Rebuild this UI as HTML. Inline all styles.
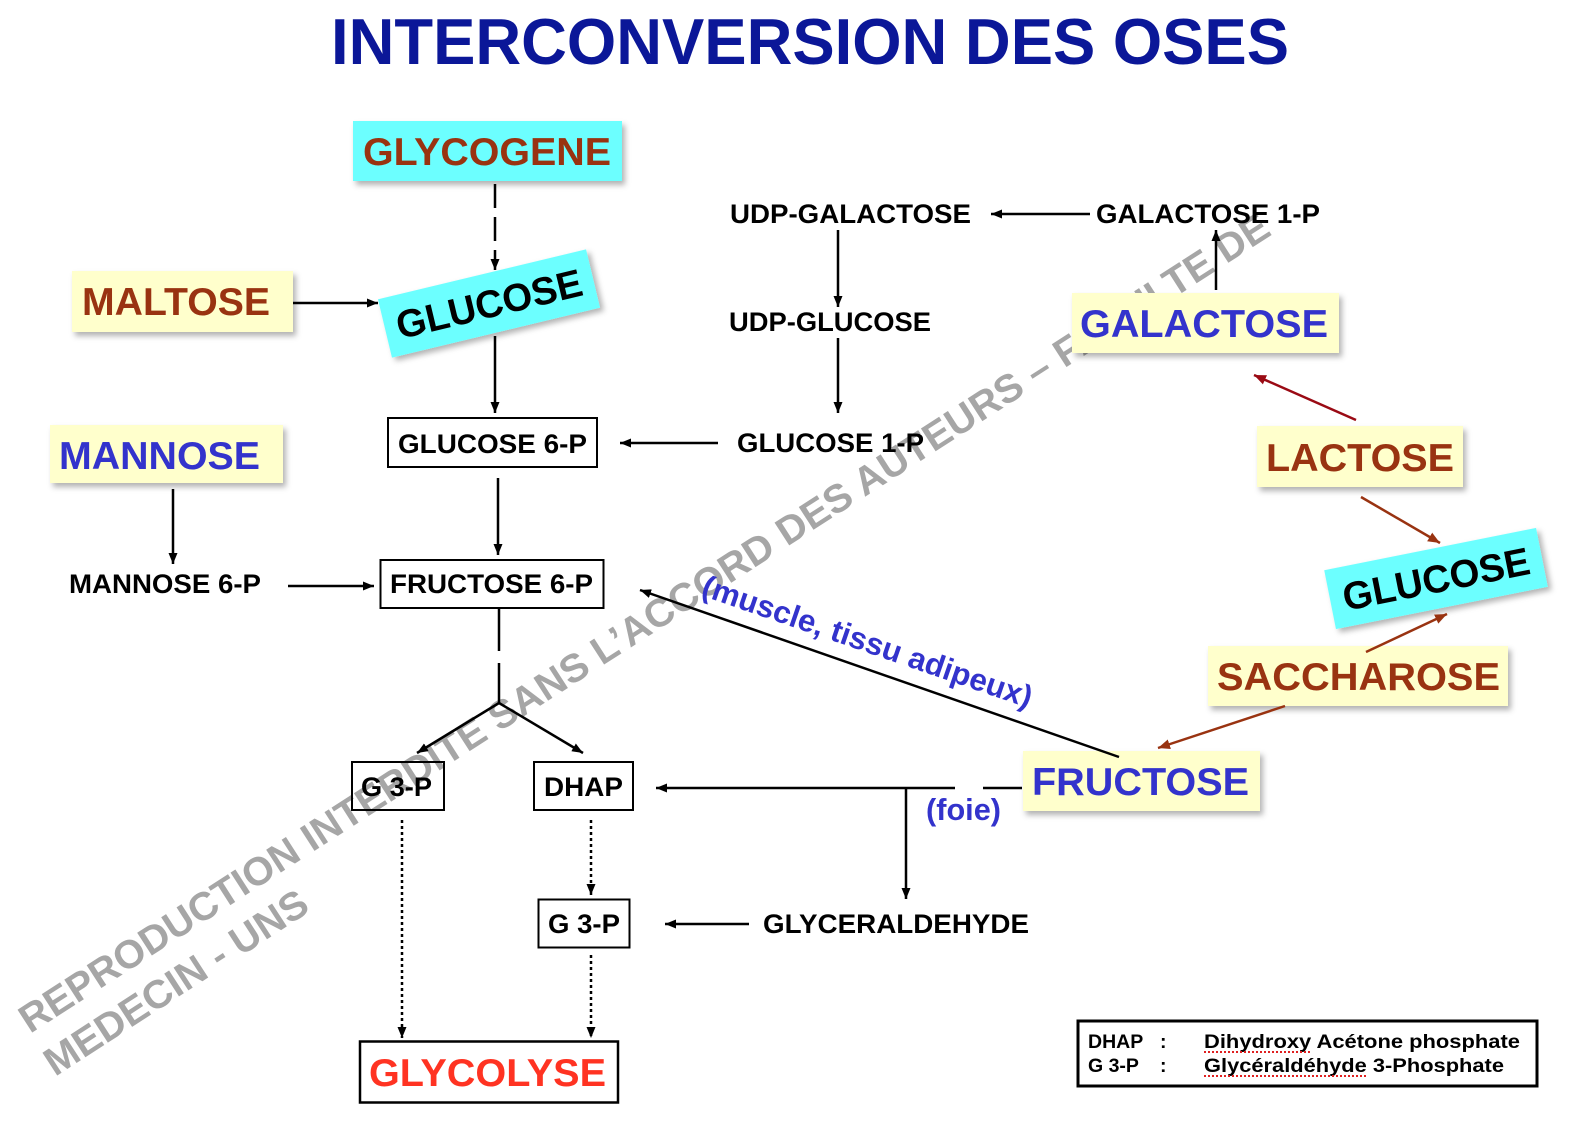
<!DOCTYPE html>
<html><head><meta charset="utf-8"><style>
html,body{margin:0;padding:0;background:#fff;}
svg{display:block;}
text{font-family:"Liberation Sans",Arial,sans-serif;font-weight:bold;}
</style></head><body>
<svg width="1574" height="1122" viewBox="0 0 1574 1122" xmlns="http://www.w3.org/2000/svg">
<defs>
<filter id="sh" x="-15%" y="-30%" width="140%" height="170%">
<feDropShadow dx="3" dy="4" stdDeviation="3" flood-color="#000" flood-opacity="0.3"/>
</filter>
<marker id="a" viewBox="0 0 10 10" refX="10" refY="5" markerWidth="11" markerHeight="9" orient="auto" markerUnits="userSpaceOnUse" preserveAspectRatio="none"><path d="M0,0L10,5L0,10z" fill="#000"/></marker>
<marker id="b" viewBox="0 0 10 10" refX="10" refY="5" markerWidth="12" markerHeight="10" orient="auto" markerUnits="userSpaceOnUse" preserveAspectRatio="none"><path d="M0,0L10,5L0,10z" fill="#993311"/></marker>
<marker id="r" viewBox="0 0 10 10" refX="10" refY="5" markerWidth="12" markerHeight="10" orient="auto" markerUnits="userSpaceOnUse" preserveAspectRatio="none"><path d="M0,0L10,5L0,10z" fill="#9a0a14"/></marker>
</defs>

<!-- watermark -->
<g fill="#a6a6a6" font-size="39.5">
<text transform="translate(30,1034) rotate(-32.76)" textLength="1478" lengthAdjust="spacingAndGlyphs">REPRODUCTION INTERDITE SANS L’ACCORD DES AUTEURS – FACULTE DE</text>
<text transform="translate(55,1077) rotate(-33)" textLength="306" lengthAdjust="spacingAndGlyphs">MEDECIN - UNS</text>
</g>

<!-- title -->
<text x="331" y="64" font-size="65" fill="#0b1798" textLength="958" lengthAdjust="spacingAndGlyphs">INTERCONVERSION DES OSES</text>

<!-- colored boxes -->
<rect x="353" y="121" width="269" height="60" fill="#6cffff" filter="url(#sh)"/>
<text x="363" y="165" font-size="39" fill="#993311" textLength="248" lengthAdjust="spacingAndGlyphs">GLYCOGENE</text>

<rect x="72" y="271" width="221" height="61" fill="#ffffcc" filter="url(#sh)"/>
<text x="82" y="315" font-size="39" fill="#993311" textLength="188" lengthAdjust="spacingAndGlyphs">MALTOSE</text>

<g transform="translate(489,303.5) rotate(-13.5)">
<rect x="-107" y="-30" width="214" height="60" fill="#6cffff" filter="url(#sh)"/>
<text x="0" y="14" font-size="39" fill="#000" text-anchor="middle" textLength="190" lengthAdjust="spacingAndGlyphs">GLUCOSE</text>
</g>

<rect x="50" y="425" width="233" height="58" fill="#ffffcc" filter="url(#sh)"/>
<text x="59" y="469" font-size="39" fill="#3333cc" textLength="201" lengthAdjust="spacingAndGlyphs">MANNOSE</text>

<rect x="1072" y="293" width="267" height="60" fill="#ffffcc" filter="url(#sh)"/>
<text x="1080" y="337" font-size="39" fill="#3333cc" textLength="248" lengthAdjust="spacingAndGlyphs">GALACTOSE</text>

<rect x="1257" y="426" width="206" height="61" fill="#ffffcc" filter="url(#sh)"/>
<text x="1266" y="471" font-size="39" fill="#993311" textLength="188" lengthAdjust="spacingAndGlyphs">LACTOSE</text>

<g transform="translate(1436,578.5) rotate(-11.3)">
<rect x="-108" y="-30" width="216" height="60" fill="#6cffff" filter="url(#sh)"/>
<text x="0" y="14" font-size="39" fill="#000" text-anchor="middle" textLength="190" lengthAdjust="spacingAndGlyphs">GLUCOSE</text>
</g>

<rect x="1208" y="646" width="300" height="60" fill="#ffffcc" filter="url(#sh)"/>
<text x="1217" y="690" font-size="39" fill="#993311" textLength="283" lengthAdjust="spacingAndGlyphs">SACCHAROSE</text>

<rect x="1023" y="751" width="237" height="60" fill="#ffffcc" filter="url(#sh)"/>
<text x="1032" y="795" font-size="39" fill="#3333cc" textLength="217" lengthAdjust="spacingAndGlyphs">FRUCTOSE</text>

<!-- outlined boxes -->
<g fill="none" stroke="#000" stroke-width="2">
<rect x="388" y="418" width="209" height="49"/>
<rect x="380.5" y="560" width="223" height="48"/>
<rect x="352" y="762" width="92" height="48"/>
<rect x="534" y="762" width="99" height="48"/>
<rect x="538.5" y="899.5" width="91" height="48"/>
<rect x="360" y="1041.5" width="258" height="61" stroke-width="2.5"/>
<rect x="1078" y="1021" width="459" height="65" stroke-width="3"/>
</g>

<!-- black labels -->
<g font-size="27" fill="#000">
<text x="398" y="453" textLength="189" lengthAdjust="spacingAndGlyphs">GLUCOSE 6-P</text>
<text x="730" y="223" textLength="241" lengthAdjust="spacingAndGlyphs">UDP-GALACTOSE</text>
<text x="1096" y="223" textLength="224" lengthAdjust="spacingAndGlyphs">GALACTOSE 1-P</text>
<text x="729" y="331" textLength="202" lengthAdjust="spacingAndGlyphs">UDP-GLUCOSE</text>
<text x="737" y="452" textLength="187" lengthAdjust="spacingAndGlyphs">GLUCOSE 1-P</text>
<text x="69" y="593" textLength="192" lengthAdjust="spacingAndGlyphs">MANNOSE 6-P</text>
<text x="390" y="593" textLength="203" lengthAdjust="spacingAndGlyphs">FRUCTOSE 6-P</text>
<text x="361" y="796" textLength="71" lengthAdjust="spacingAndGlyphs">G 3-P</text>
<text x="544" y="796" textLength="79" lengthAdjust="spacingAndGlyphs">DHAP</text>
<text x="548" y="933" textLength="72" lengthAdjust="spacingAndGlyphs">G 3-P</text>
<text x="763" y="933" textLength="266" lengthAdjust="spacingAndGlyphs">GLYCERALDEHYDE</text>
</g>

<text x="369" y="1086" font-size="39" fill="#ff3322" textLength="237" lengthAdjust="spacingAndGlyphs">GLYCOLYSE</text>

<!-- blue annotations -->
<text transform="translate(700,595) rotate(19)" font-size="31" fill="#3333cc" textLength="347" lengthAdjust="spacingAndGlyphs">(muscle, tissu adipeux)</text>
<text x="926" y="820" font-size="31" fill="#3333cc" textLength="75" lengthAdjust="spacingAndGlyphs">(foie)</text>

<!-- black connectors -->
<g stroke="#000" stroke-width="2.5" fill="none">
<line x1="495" y1="184" x2="495" y2="270" stroke-dasharray="24 9" marker-end="url(#a)"/>
<line x1="293" y1="303" x2="378" y2="303" marker-end="url(#a)"/>
<line x1="495" y1="336" x2="495" y2="413" marker-end="url(#a)"/>
<line x1="498" y1="478" x2="498" y2="555" marker-end="url(#a)"/>
<line x1="173" y1="489" x2="173" y2="564" marker-end="url(#a)"/>
<line x1="288" y1="586" x2="374" y2="586" marker-end="url(#a)"/>
<line x1="718" y1="443" x2="620" y2="443" marker-end="url(#a)"/>
<line x1="838" y1="230" x2="838" y2="307" marker-end="url(#a)"/>
<line x1="838" y1="338" x2="838" y2="413" marker-end="url(#a)"/>
<line x1="1090" y1="214" x2="991" y2="214" marker-end="url(#a)"/>
<line x1="1216" y1="290" x2="1216" y2="230" marker-end="url(#a)"/>
<line x1="499" y1="609" x2="499" y2="651"/>
<line x1="499" y1="663" x2="499" y2="703"/>
<line x1="499" y1="703" x2="417" y2="753" marker-end="url(#a)"/>
<line x1="499" y1="703" x2="583" y2="753" marker-end="url(#a)"/>
<line x1="402" y1="820" x2="402" y2="1038" stroke-dasharray="3 3" marker-end="url(#a)"/>
<line x1="591" y1="820" x2="591" y2="895" stroke-dasharray="3 3" marker-end="url(#a)"/>
<line x1="591" y1="955" x2="591" y2="1038" stroke-dasharray="3 3" marker-end="url(#a)"/>
<line x1="749" y1="924" x2="665" y2="924" marker-end="url(#a)"/>
<line x1="1022" y1="788" x2="983" y2="788"/>
<line x1="955" y1="788" x2="656" y2="788" marker-end="url(#a)"/>
<line x1="906" y1="788" x2="906" y2="899" marker-end="url(#a)"/>
<line x1="1119" y1="757" x2="640" y2="590" marker-end="url(#a)"/>
</g>

<!-- brown / red connectors -->
<g stroke-width="2.5" fill="none">
<line x1="1285" y1="706" x2="1158" y2="748" stroke="#993311" marker-end="url(#b)"/>
<line x1="1366" y1="652" x2="1447" y2="614" stroke="#993311" marker-end="url(#b)"/>
<line x1="1361" y1="497" x2="1440" y2="543" stroke="#993311" marker-end="url(#b)"/>
<line x1="1356" y1="420" x2="1254" y2="375" stroke="#9a0a14" marker-end="url(#r)"/>
</g>

<!-- legend -->
<g font-size="19.5" fill="#000">
<text x="1088" y="1048">DHAP</text>
<text x="1160" y="1048">:</text>
<text x="1204" y="1048" textLength="316" lengthAdjust="spacingAndGlyphs">Dihydroxy Acétone phosphate</text>
<text x="1088" y="1072">G 3-P</text>
<text x="1160" y="1072">:</text>
<text x="1204" y="1072" textLength="300" lengthAdjust="spacingAndGlyphs">Glycéraldéhyde 3-Phosphate</text>
</g>
<g stroke="#e02020" stroke-width="2" stroke-dasharray="2 2" fill="none">
<line x1="1204" y1="1052" x2="1312" y2="1052"/>
<line x1="1204" y1="1076" x2="1368" y2="1076"/>
</g>
</svg>
</body></html>
